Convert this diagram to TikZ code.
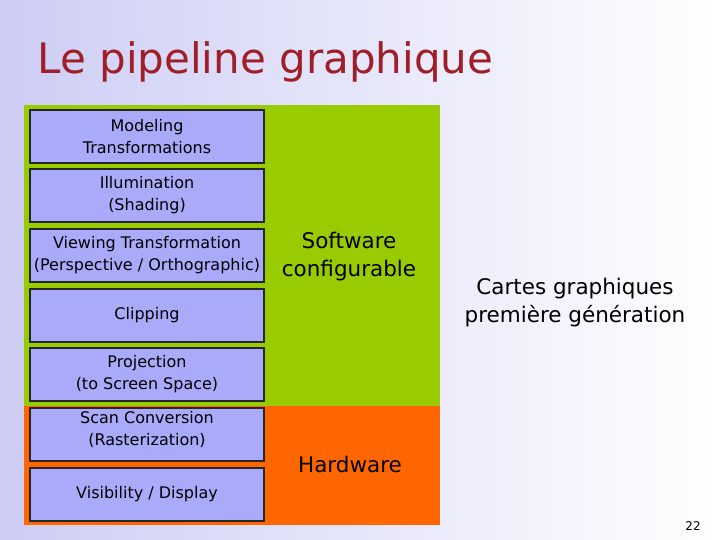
\documentclass[tikz,border=0pt]{standalone}
\usepackage{fontspec}
\setmainfont{DejaVu Sans}
\usetikzlibrary{positioning}
\definecolor{bgblue}{RGB}{205,205,245}
\definecolor{boxfill}{RGB}{170,170,250}
\definecolor{swgreen}{RGB}{153,204,0}
\definecolor{hworange}{RGB}{255,102,0}
\definecolor{titlered}{RGB}{160,30,40}

\begin{document}
\begin{tikzpicture}[
        x = 1pt, y = -1pt, % pixel grid
        stage/.style = {rectangle, draw=black!85, line width=1.5pt, fill=boxfill,
                        minimum width=234pt, minimum height=53pt, inner sep=0pt,
                        align=center, font=\fontsize{16}{22}\selectfont},
        big/.style = {align=center, font=\fontsize{21.5}{28}\selectfont}
      ]

      \shade[left color=bgblue, right color=white] (0,0) rectangle (720,540);
      \useasboundingbox (0,0) rectangle (720,540);

      \node[anchor=west, text=titlered, font=\fontsize{42}{44}\selectfont] (title) at (34,62) {Le pipeline graphique};

      \fill[swgreen] (24,105) rectangle (440,406);
      \fill[hworange] (24,406) rectangle (440,525);

      \node[stage] (model) at (147,136.5) {Modeling\\Transformations};
      \node[stage] (illum) at (147,195.5) {Illumination\\(Shading)};
      \node[stage] (view) at (147,255.5) {Viewing Transformation\\(Perspective / Orthographic)};
      \node[stage] (clip) at (147,315.5) {Clipping};
      \node[stage] (proj) at (147,374.5) {Projection\\(to Screen Space)};
      \node[stage] (scan) at (147,434.5) {};
      \node[align=center, font=\fontsize{16}{22}\selectfont, below=1pt of scan.north] (scantext) {Scan Conversion\\(Rasterization)};
      \node[stage] (vis) at (147,494.5) {Visibility / Display};

      \node[big] (sw) at (349,257) {Software\\configurable};
      \node[big] (hw) at (350,464) {Hardware};
      \node[big] (cartes) at (575,303) {Cartes graphiques\\première génération};
      \node[font=\fontsize{12}{14}\selectfont] (page) at (693,526) {22};

    \end{tikzpicture}
\end{document}
